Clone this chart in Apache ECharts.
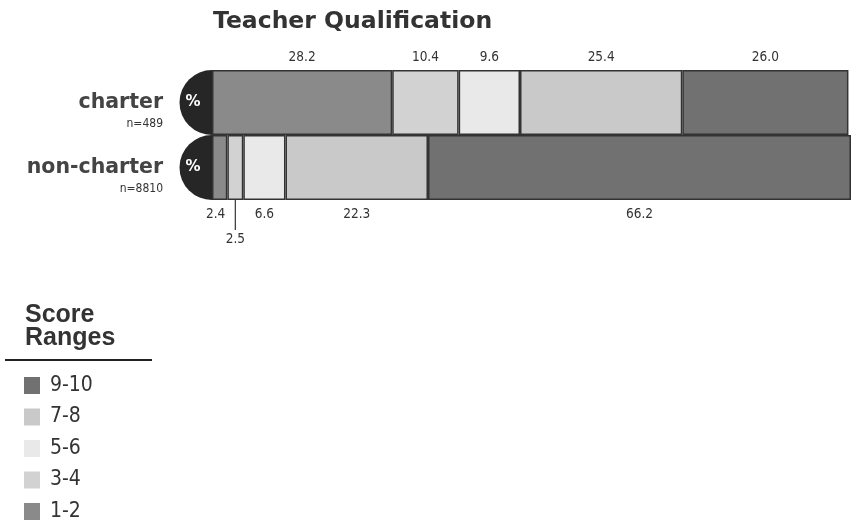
<!DOCTYPE html>
<html>
<head>
<meta charset="utf-8">
<script src="https://cdn.jsdelivr.net/npm/echarts@6/dist/echarts.min.js"></script>
<style>
  html, body { margin: 0; padding: 0; background: #fff; }
  #chart { width: 851px; height: 522px; }
</style>
</head>
<body>
<div id="chart"></div>
<script>
// School groups and their sample sizes
const groups = ['charter', 'non-charter'];
const sampleSizes = ['n=489', 'n=8810'];

// Score ranges, drawn left to right in this order
const ranges = ['1-2', '3-4', '5-6', '7-8', '9-10'];
const rangeColors = ['#8a8a8a', '#d2d2d2', '#e9e9e9', '#c9c9c9', '#717171'];

// Percent of teachers in each score range
const charterPct = [28.2, 10.4, 9.6, 25.4, 26.0];
const nonCharterPct = [2.4, 2.5, 6.6, 22.3, 66.2];

// Legend lists the highest range first
const legendOrder = ['9-10', '7-8', '5-6', '3-4', '1-2'];

const labelFont = {
  fontFamily: 'DejaVu Sans Condensed',
  fontSize: 13.5,
  color: '#333'
};

function segmentData(i) {
  const nonLabel = { position: 'bottom', distance: 7 };
  if (i === 0) nonLabel.offset = [-4, 0];
  if (i === 1) nonLabel.offset = [0, 25];
  return [
    { value: charterPct[i], label: { position: 'top', distance: 6 } },
    { value: nonCharterPct[i], label: nonLabel }
  ];
}

const barSeries = ranges.map((name, i) => ({
  name: name,
  type: 'bar',
  stack: 'total',
  barWidth: '100%',
  data: segmentData(i),
  itemStyle: {
    color: rangeColors[i],
    borderColor: '#333',
    borderWidth: 1.5
  },
  label: Object.assign({
    show: true,
    formatter: p => p.value.toFixed(1)
  }, labelFont)
}));

// Rounded dark caps holding the "%" sign, left of each bar
const capSeries = {
  type: 'custom',
  silent: true,
  data: groups.map((g, i) => [0, i]),
  encode: { x: 0, y: 1 },
  renderItem: function (params, api) {
    const pt = api.coord([api.value(0), api.value(1)]);
    const band = api.size([0, 1])[1];
    return {
      type: 'group',
      children: [
        {
          type: 'sector',
          shape: {
            cx: pt[0], cy: pt[1], r0: 0, r: band / 2,
            startAngle: Math.PI / 2, endAngle: Math.PI * 1.5, clockwise: true
          },
          style: { fill: '#262626' }
        },
        {
          type: 'text',
          x: pt[0] - 19,
          y: pt[1],
          style: {
            text: '%',
            fill: '#fff',
            font: 'bold 15px "DejaVu Sans"',
            align: 'center',
            verticalAlign: 'middle'
          }
        }
      ]
    };
  }
};

// Leader line tying the small "2.5" label to its segment
const leaderSeries = {
  type: 'custom',
  silent: true,
  data: [[nonCharterPct[0] + nonCharterPct[1] / 2, 1]],
  encode: { x: 0, y: 1 },
  renderItem: function (params, api) {
    const pt = api.coord([api.value(0), api.value(1)]);
    const band = api.size([0, 1])[1];
    const y0 = pt[1] + band / 2;
    return {
      type: 'line',
      shape: { x1: pt[0], y1: y0, x2: pt[0], y2: y0 + 30 },
      style: { stroke: '#333', lineWidth: 1.2 }
    };
  }
};

const chart = echarts.init(document.getElementById('chart'), null, { renderer: 'canvas' });

chart.setOption({
  animation: false,
  backgroundColor: '#fff',
  title: [
    {
      text: 'Teacher Qualification',
      left: 213,
      top: 10,
      padding: 0,
      textStyle: {
        fontFamily: 'DejaVu Sans',
        fontWeight: 'bold',
        fontSize: 23.5,
        color: '#333'
      }
    },
    {
      text: 'Score\nRanges',
      left: 25,
      top: 304,
      padding: 0,
      textStyle: {
        fontFamily: 'Liberation Sans',
        fontWeight: 'bold',
        fontSize: 25,
        lineHeight: 23,
        color: '#333'
      }
    }
  ],
  legend: {
    data: legendOrder,
    orient: 'vertical',
    left: 24,
    top: 375,
    height: 160,
    padding: 0,
    icon: 'rect',
    itemWidth: 16,
    itemHeight: 17,
    itemGap: 10.5,
    itemStyle: { borderWidth: 0 },
    textStyle: {
      fontFamily: 'DejaVu Sans Condensed',
      fontSize: 21,
      color: '#333',
      padding: [0, 0, 0, 5]
    },
    selectedMode: false
  },
  grid: {
    left: 212,
    right: 0,
    top: 70,
    height: 130,
    containLabel: false
  },
  xAxis: {
    type: 'value',
    min: 0,
    max: 100,
    show: false
  },
  yAxis: {
    type: 'category',
    data: groups,
    inverse: true,
    axisLine: { show: false },
    axisTick: { show: false },
    axisLabel: {
      margin: 49,
      align: 'right',
      formatter: function (value, idx) {
        return '{s| }\n{a|' + value + '}\n{b|' + sampleSizes[idx] + '}';
      },
      rich: {
        s: { fontSize: 10, lineHeight: 20 },
        a: {
          fontFamily: 'DejaVu Sans',
          fontWeight: 'bold',
          fontSize: 20.5,
          lineHeight: 22,
          color: '#444',
          align: 'right'
        },
        b: {
          fontFamily: 'DejaVu Sans Condensed',
          fontSize: 12,
          lineHeight: 20,
          color: '#333',
          align: 'right'
        }
      }
    }
  },
  series: barSeries.concat([capSeries, leaderSeries]),
  graphic: [
    {
      type: 'line',
      shape: { x1: 5, y1: 360, x2: 152, y2: 360 },
      style: { stroke: '#222', lineWidth: 2 }
    }
  ]
});
</script>
</body>
</html>
